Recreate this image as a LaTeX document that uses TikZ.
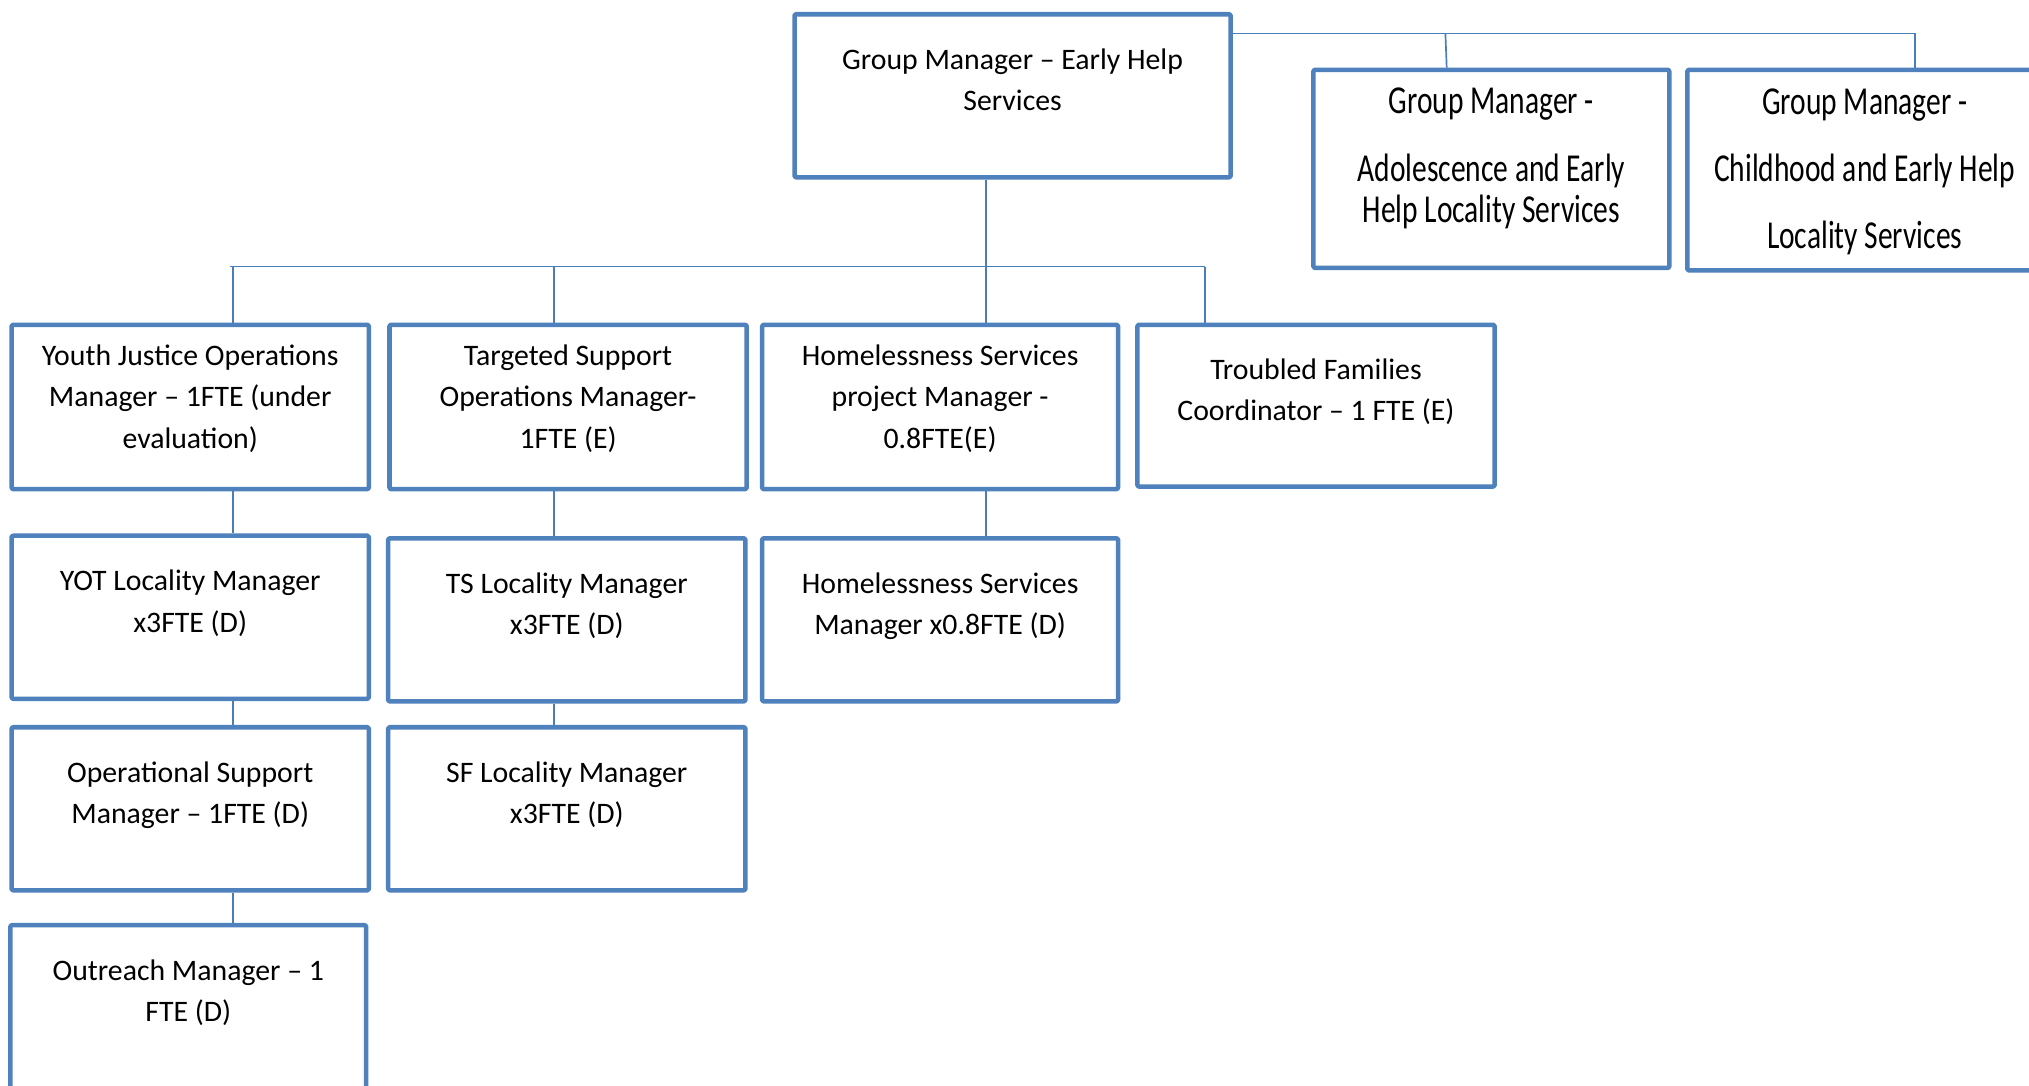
\documentclass[tikz,border=0pt]{standalone}
\usepackage{fontspec}
\setmainfont{Carlito}
\newfontfamily\condfont[FakeStretch=0.745]{Carlito}
\usetikzlibrary{calc}
\definecolor{bdr}{HTML}{4F81BD}
\definecolor{cnc}{HTML}{4A7EBB}
\tikzset{
  box/.style={draw=bdr, line width=3.5pt, rounded corners=1pt, inner sep=0pt, line join=round},
  txt/.style={font=\fontsize{23}{32}\selectfont, align=center, inner sep=0pt, text=black},
  ctxt/.style={font=\condfont\fontsize{30.6}{32}\selectfont, align=center, inner sep=0pt, text=black},
  conn/.style={draw=cnc, line width=1.3pt}
}
\begin{document}
\begin{tikzpicture}[x=1pt,y=-1pt]
\useasboundingbox (0,0) rectangle (1568,839);
\fill[white] (0,0) rectangle (1568,839);
\clip (0,0) rectangle (1568,839);
% boxes
\node[box, minimum width=337, minimum height=126] (gm) at (782.5,74) {};
\node[box, minimum width=275, minimum height=153] (ad) at (1152.5,130.5) {};
\node[box, minimum width=276, minimum height=155] (ch) at (1442,131.5) {};
\node[box, minimum width=276, minimum height=127] (yj) at (147,314.5) {};
\node[box, minimum width=276, minimum height=127] (ts) at (439,314.5) {};
\node[box, minimum width=275, minimum height=127] (hs) at (726.5,314.5) {};
\node[box, minimum width=276, minimum height=125] (tf) at (1017,313.5) {};
\node[box, minimum width=276, minimum height=126] (yot) at (147,477) {};
\node[box, minimum width=276, minimum height=126] (tsl) at (438,479) {};
\node[box, minimum width=275, minimum height=126] (hsm) at (726.5,479) {};
\node[box, minimum width=276, minimum height=126] (osm) at (147,625) {};
\node[box, minimum width=276, minimum height=126] (sf) at (438,625) {};
\node[box, minimum width=275, minimum height=145] (out) at (145.5,787.5) {};
% texts
\node[txt] (gmt) at (782.5,63) {\strut Group Manager – Early Help\\\strut Services};
\node[ctxt] (adt) at (1152.5,123.5) {\strut Group Manager -\\[20pt]\strut Adolescence and Early\\\strut Help Locality Services};
\node[ctxt] (cht) at (1441,134) {\strut Group Manager -\\[20pt]\strut Childhood and Early Help\\[20pt]\strut Locality Services};
\node[txt] (yjt) at (147,308) {\strut Youth Justice Operations\\\strut Manager – 1FTE (under\\\strut evaluation)};
\node[txt] (tst) at (439,308) {\strut Targeted Support\\\strut Operations Manager-\\\strut 1FTE (E)};
\node[txt] (hst) at (726.5,308) {\strut Homelessness Services\\\strut project Manager -\\\strut 0.8FTE(E)};
\node[txt] (tft) at (1017,302.5) {\strut Troubled Families\\\strut Coordinator – 1 FTE (E)};
\node[txt] (yott) at (147,466) {\strut YOT Locality Manager\\\strut x3FTE (D)};
\node[txt] (tslt) at (438,468) {\strut TS Locality Manager\\\strut x3FTE (D)};
\node[txt] (hsmt) at (726.5,468) {\strut Homelessness Services\\\strut Manager x0.8FTE (D)};
\node[txt] (osmt) at (147,614) {\strut Operational Support\\\strut Manager – 1FTE (D)};
\node[txt] (sft) at (438,614) {\strut SF Locality Manager\\\strut x3FTE (D)};
\node[txt] (outt) at (145.5,767) {\strut Outreach Manager – 1\\\strut FTE (D)};
% bus coordinates
\coordinate (bL) at (178,206);
\coordinate (xA) at (180,206);
\coordinate (xB) at (428,206);
\coordinate (xM) at (762,206);
\coordinate (xD) at (931,206);
\coordinate (r1) at (1117,26);
\coordinate (r2) at (1480,26);
% connectors
\draw[conn] (bL) -- (xD);
\draw[conn] (gm.south -| xM) -- (hs.north -| xM);
\draw[conn] (xA) -- (yj.north -| xA);
\draw[conn] (xB) -- (ts.north -| xB);
\draw[conn] (xD) -- (tf.north -| xD);
\draw[conn] (yj.south -| xA) -- (yot.north -| xA);
\draw[conn] (yot.south -| xA) -- (osm.north -| xA);
\draw[conn] (osm.south -| xA) -- (out.north -| xA);
\draw[conn] (ts.south -| xB) -- (tsl.north -| xB);
\draw[conn] (tsl.south -| xB) -- (sf.north -| xB);
\draw[conn] (hs.south -| xM) -- (hsm.north -| xM);
\draw[conn] (gm.east |- r2) -- (r2) -- (ch.north -| r2);
\draw[conn] (r1) -- ([xshift=1pt]ad.north -| r1);
\end{tikzpicture}
\end{document}
